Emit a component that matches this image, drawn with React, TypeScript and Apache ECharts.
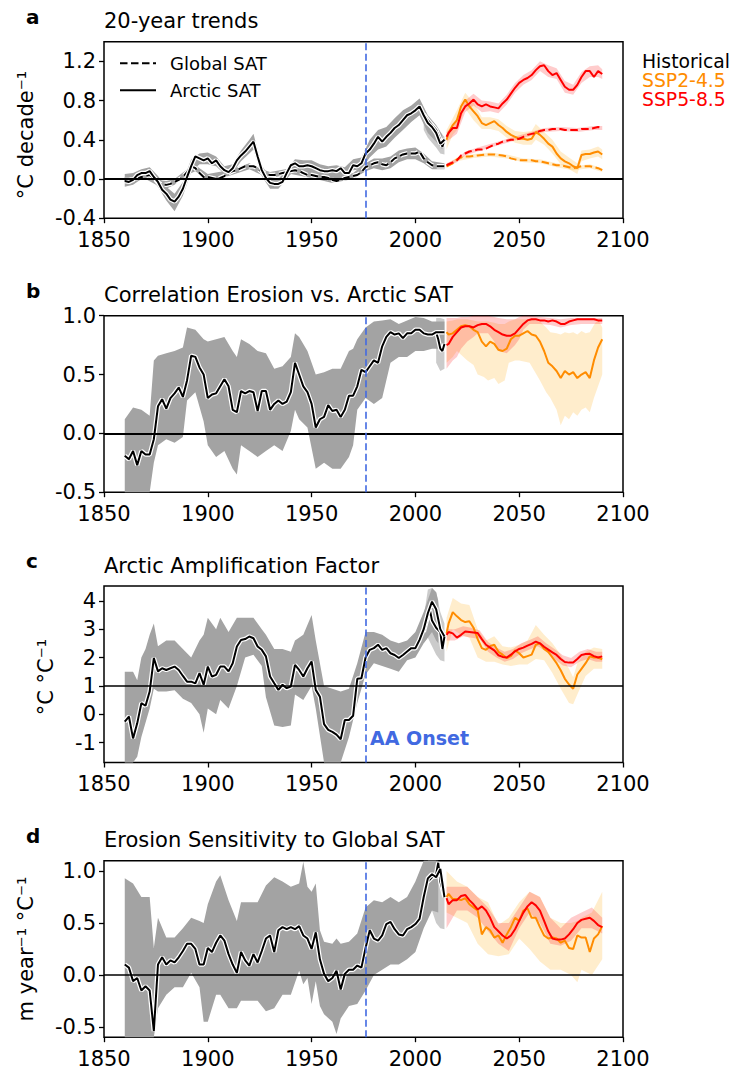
import React, { useEffect, useRef } from "react";
import * as echarts from "echarts";

const FONT = "DejaVu Sans";
const ONSET_YEAR = 1976;
const X_MIN = 1850;
const X_MAX = 2100;
const X_STEP = 50;

const HIST_YEARS = [
  1860, 1862, 1864, 1866, 1868, 1870, 1872, 1874, 1876, 1878,
  1880, 1882, 1884, 1886, 1888, 1890, 1892, 1894, 1896, 1898,
  1900, 1902, 1904, 1906, 1908, 1910, 1912, 1914, 1916, 1918,
  1920, 1922, 1924, 1926, 1928, 1930, 1932, 1934, 1936, 1938,
  1940, 1942, 1944, 1946, 1948, 1950, 1952, 1954, 1956, 1958,
  1960, 1962, 1964, 1966, 1968, 1970, 1972, 1974, 1976, 1978,
  1980, 1982, 1984, 1986, 1988, 1990, 1992, 1994, 1996, 1998,
  2000, 2002, 2004, 2006, 2008, 2010, 2012, 2014,
];
const PROJ_YEARS = [
  2015, 2016, 2018, 2020, 2022, 2024, 2026, 2028,
  2030, 2032, 2034, 2036, 2038, 2040, 2042, 2044, 2046, 2048,
  2050, 2052, 2054, 2056, 2058, 2060, 2062, 2064, 2066, 2068,
  2070, 2072, 2074, 2076, 2078, 2080, 2082, 2084, 2086, 2088, 2090,
];

// ---------- Panel a: 20-year trends ----------
const A_ARCTIC_HIST = [
  -0.02, -0.03, -0.01, 0.04, 0.06, 0.06, 0.08, 0.02, -0.03, -0.11,
  -0.15, -0.21, -0.23, -0.18, -0.1, 0.02, 0.13, 0.23, 0.21, 0.19,
  0.21, 0.16, 0.19, 0.13, 0.09, 0.07, 0.11, 0.19, 0.24, 0.28,
  0.33, 0.38, 0.23, 0.09, 0.01, -0.04, -0.05, -0.05, -0.03, 0.06,
  0.14, 0.16, 0.13, 0.13, 0.14, 0.13, 0.11, 0.09, 0.08, 0.08,
  0.09, 0.08, 0.11, 0.06, 0.06, 0.14, 0.13, 0.16, 0.26, 0.3,
  0.36, 0.43, 0.38, 0.43, 0.47, 0.52, 0.55, 0.6, 0.65, 0.67,
  0.7, 0.74, 0.65, 0.57, 0.53, 0.47, 0.36, 0.4,
];
const A_GLOBAL_HIST = [
  -0.01, -0.01, 0.0, 0.01, 0.02, 0.03, 0.04, 0.01, -0.04, -0.06,
  -0.06, -0.05, -0.03, -0.01, 0.02, 0.07, 0.13, 0.11, 0.06, 0.02,
  0.02, 0.01, 0.0, 0.01, 0.03, 0.06, 0.08, 0.09, 0.11, 0.13,
  0.13, 0.13, 0.11, 0.07, 0.05, 0.04, 0.04, 0.05, 0.06, 0.07,
  0.08, 0.09, 0.08, 0.06, 0.04, 0.04, 0.03, 0.02, 0.02, 0.01,
  -0.01, -0.02, -0.01, 0.01, 0.02, 0.03, 0.04, 0.07, 0.12, 0.14,
  0.16, 0.17, 0.15, 0.14, 0.17, 0.21, 0.23, 0.25, 0.26, 0.26,
  0.26, 0.28, 0.21, 0.17, 0.14, 0.13, 0.13, 0.13,
];
const A_LATE_YEARS = [2004, 2006, 2008, 2010, 2012, 2013, 2014];
const A_ARCTIC_LATE = [0.66, 0.6, 0.55, 0.5, 0.4, 0.33, 0.4];
const A_LATE_BAND_YEARS = [2004, 2006, 2008, 2010, 2012, 2014];
const A_LATE_BAND_HI = [0.7, 0.62, 0.58, 0.52, 0.47, 0.43];
const A_LATE_BAND_LO = [0.5, 0.42, 0.37, 0.32, 0.26, 0.25];
const A_ARCTIC_245 = [
  0.4, 0.47, 0.55, 0.6, 0.74, 0.81, 0.74, 0.69,
  0.64, 0.57, 0.55, 0.57, 0.59, 0.55, 0.52, 0.48, 0.45, 0.43,
  0.41, 0.41, 0.4, 0.41, 0.48, 0.45, 0.41, 0.36, 0.33, 0.26,
  0.21, 0.18, 0.16, 0.13, 0.11, 0.245, 0.255, 0.255, 0.27, 0.28, 0.25,
];
const A_ARCTIC_585 = [
  0.43, 0.47, 0.52, 0.52, 0.67, 0.74, 0.77, 0.81,
  0.76, 0.74, 0.76, 0.74, 0.73, 0.72, 0.77, 0.81, 0.87, 0.93,
  0.98, 1.01, 1.03, 1.06, 1.11, 1.15, 1.16, 1.1, 1.06, 1.08,
  1.01, 0.94, 0.91, 0.91, 0.96, 1.04, 1.1, 1.1, 1.04, 1.1, 1.07,
];
const A_GLOBAL_245 = [
  0.13, 0.14, 0.16, 0.2, 0.22, 0.23, 0.23, 0.235,
  0.24, 0.245, 0.25, 0.25, 0.25, 0.245, 0.24, 0.23, 0.21, 0.2,
  0.19, 0.19, 0.19, 0.19, 0.18, 0.18, 0.17, 0.16, 0.15, 0.14,
  0.14, 0.13, 0.12, 0.11, 0.12, 0.13, 0.13, 0.13, 0.12, 0.11, 0.09,
];
const A_GLOBAL_585 = [
  0.14, 0.15, 0.17, 0.19, 0.24, 0.26, 0.28, 0.29,
  0.3, 0.3, 0.31, 0.33, 0.35, 0.36, 0.38, 0.39, 0.4, 0.4,
  0.41, 0.43, 0.45, 0.46, 0.47, 0.49, 0.5, 0.5, 0.51, 0.51,
  0.51, 0.5, 0.5, 0.5, 0.5, 0.51, 0.51, 0.51, 0.52, 0.53, 0.52,
];
const A_ARCTIC_BAND_YEARS = [1860, 1864, 1868, 1872, 1876, 1880, 1884, 1888, 1892, 1896, 1900, 1904, 1908, 1912, 1916, 1920, 1922, 1926, 1930, 1934, 1938, 1942, 1946, 1950, 1954, 1958, 1962, 1966, 1970, 1974, 1978, 1982, 1986, 1990, 1994, 1998, 2002, 2006, 2010, 2013];
const A_ARCTIC_BAND_HI = [0.05, 0.06, 0.1, 0.12, 0.03, -0.08, -0.15, -0.03, 0.2, 0.26, 0.27, 0.23, 0.13, 0.15, 0.29, 0.4, 0.46, 0.14, 0.01, 0.0, 0.1, 0.2, 0.19, 0.19, 0.15, 0.13, 0.14, 0.12, 0.2, 0.22, 0.4, 0.5, 0.53, 0.62, 0.7, 0.75, 0.82, 0.65, 0.55, 0.45];
const A_ARCTIC_BAND_LO = [-0.08, -0.06, 0.0, 0.02, -0.08, -0.22, -0.33, -0.17, 0.07, 0.15, 0.15, 0.13, 0.05, 0.06, 0.18, 0.26, 0.3, 0.03, -0.1, -0.1, 0.0, 0.1, 0.08, 0.06, 0.03, 0.02, 0.01, 0.0, 0.09, 0.1, 0.22, 0.3, 0.33, 0.42, 0.5, 0.58, 0.65, 0.47, 0.38, 0.3];
const A_GLOBAL_BAND_YEARS = [1860, 1870, 1876, 1880, 1884, 1890, 1894, 1900, 1910, 1920, 1926, 1930, 1940, 1950, 1960, 1970, 1976, 1980, 1984, 1988, 1992, 1996, 2000, 2004, 2008, 2014];
const A_GLOBAL_BAND_HI = [0.02, 0.06, -0.01, -0.02, 0.0, 0.1, 0.14, 0.05, 0.09, 0.16, 0.1, 0.07, 0.11, 0.07, 0.02, 0.06, 0.16, 0.21, 0.21, 0.23, 0.29, 0.31, 0.32, 0.26, 0.18, 0.16];
const A_GLOBAL_BAND_LO = [-0.04, 0.0, -0.07, -0.1, -0.06, 0.04, 0.08, -0.01, 0.03, 0.1, 0.04, 0.01, 0.05, 0.01, -0.04, 0.0, 0.08, 0.11, 0.09, 0.11, 0.17, 0.2, 0.2, 0.16, 0.1, 0.1];
const A_585_BAND_YEARS = [2015, 2020, 2024, 2028, 2032, 2036, 2040, 2044, 2048, 2052, 2056, 2060, 2064, 2068, 2072, 2076, 2080, 2084, 2088, 2090];
const A_585_BAND_HI = [0.48, 0.6, 0.8, 0.87, 0.8, 0.79, 0.77, 0.86, 0.98, 1.06, 1.11, 1.2, 1.16, 1.13, 1.0, 0.96, 1.09, 1.15, 1.16, 1.12];
const A_585_BAND_LO = [0.38, 0.46, 0.68, 0.75, 0.68, 0.69, 0.67, 0.76, 0.88, 0.96, 1.01, 1.1, 1.04, 1.02, 0.88, 0.86, 0.98, 1.04, 1.04, 1.02];
const A_245_BAND_YEARS = [2015, 2018, 2020, 2024, 2028, 2032, 2036, 2040, 2044, 2048, 2052, 2056, 2058, 2062, 2066, 2070, 2074, 2078, 2080, 2084, 2088, 2090];
const A_245_BAND_HI = [0.5, 0.62, 0.7, 0.88, 0.78, 0.63, 0.63, 0.61, 0.54, 0.49, 0.48, 0.49, 0.56, 0.48, 0.4, 0.28, 0.22, 0.16, 0.29, 0.3, 0.33, 0.3];
const A_245_BAND_LO = [0.3, 0.45, 0.5, 0.72, 0.6, 0.51, 0.51, 0.49, 0.42, 0.37, 0.35, 0.35, 0.4, 0.35, 0.26, 0.15, 0.1, 0.05, 0.18, 0.21, 0.23, 0.2];
const A_G585_BAND_YEARS = [2015, 2020, 2024, 2030, 2038, 2046, 2054, 2062, 2070, 2078, 2086, 2090];
const A_G585_BAND_HI = [0.16, 0.21, 0.28, 0.32, 0.37, 0.42, 0.47, 0.52, 0.53, 0.52, 0.54, 0.54];
const A_G585_BAND_LO = [0.12, 0.17, 0.24, 0.28, 0.33, 0.38, 0.43, 0.48, 0.49, 0.48, 0.5, 0.5];
const A_G245_BAND_YEARS = [2015, 2020, 2028, 2036, 2044, 2052, 2060, 2068, 2076, 2084, 2090];
const A_G245_BAND_HI = [0.15, 0.22, 0.255, 0.27, 0.25, 0.21, 0.2, 0.16, 0.13, 0.15, 0.11];
const A_G245_BAND_LO = [0.11, 0.18, 0.215, 0.23, 0.21, 0.17, 0.16, 0.12, 0.09, 0.11, 0.07];

// ---------- Panel b: correlation erosion vs arctic SAT ----------
const B_HIST = [
  -0.19, -0.22, -0.15, -0.27, -0.15, -0.18, -0.18, -0.05, 0.23, 0.29,
  0.21, 0.3, 0.34, 0.39, 0.31, 0.45, 0.66, 0.65, 0.56, 0.5,
  0.3, 0.33, 0.34, 0.4, 0.46, 0.4, 0.2, 0.18, 0.36, 0.34,
  0.36, 0.35, 0.19, 0.36, 0.36, 0.2, 0.25, 0.28, 0.25, 0.27,
  0.35, 0.6, 0.5, 0.4, 0.35, 0.25, 0.05, 0.12, 0.14, 0.24,
  0.19, 0.2, 0.14, 0.2, 0.32, 0.32, 0.4, 0.54, 0.52, 0.57,
  0.62, 0.6, 0.74, 0.82, 0.86, 0.84, 0.85, 0.81, 0.85, 0.85,
  0.88, 0.88, 0.85, 0.84, 0.84, 0.86, 0.86, 0.86,
];
const B_LATE_YEARS = [2010, 2011, 2012, 2013, 2014];
const B_HIST_LATE = [0.86, 0.8, 0.72, 0.7, 0.76];
const B_LATE_BAND_YEARS = [2010, 2012, 2014];
const B_LATE_BAND_HI = [0.98, 0.98, 0.97];
const B_LATE_BAND_LO = [0.6, 0.53, 0.55];
const B_245 = [
  0.86, 0.84, 0.85, 0.88, 0.91, 0.92, 0.91, 0.88,
  0.86, 0.78, 0.74, 0.78, 0.76, 0.71, 0.7, 0.72, 0.8, 0.83,
  0.83, 0.85, 0.87, 0.84, 0.83, 0.78, 0.7, 0.6, 0.57, 0.53,
  0.47, 0.53, 0.5, 0.52, 0.47, 0.5, 0.52, 0.47, 0.62, 0.73, 0.8,
];
const B_585 = [
  0.75, 0.76, 0.82, 0.86, 0.9, 0.91, 0.91, 0.9,
  0.92, 0.93, 0.93, 0.91, 0.88, 0.86, 0.84, 0.83, 0.83, 0.85,
  0.89, 0.93, 0.96, 0.97, 0.97, 0.96, 0.96, 0.95, 0.96, 0.95,
  0.93, 0.93, 0.95, 0.96, 0.97, 0.97, 0.97, 0.97, 0.97, 0.96, 0.96,
];
const B_BAND_YEARS = [1860, 1864, 1868, 1872, 1874, 1876, 1880, 1884, 1888, 1890, 1894, 1898, 1900, 1904, 1908, 1912, 1914, 1916, 1920, 1924, 1928, 1932, 1936, 1940, 1942, 1944, 1948, 1952, 1956, 1960, 1964, 1968, 1970, 1972, 1976, 1980, 1984, 1988, 1992, 1996, 2000, 2004, 2008, 2012, 2014];
const B_BAND_HI = [0.12, 0.22, 0.2, 0.15, 0.62, 0.66, 0.68, 0.7, 0.73, 0.9, 0.88, 0.8, 0.78, 0.8, 0.82, 0.7, 0.65, 0.8, 0.76, 0.7, 0.68, 0.55, 0.57, 0.65, 0.85, 0.82, 0.7, 0.5, 0.52, 0.55, 0.55, 0.7, 0.72, 0.8, 0.9, 0.95, 0.96, 0.97, 0.93, 0.96, 0.99, 0.98, 0.95, 0.95, 0.95];
const B_BAND_LO = [-0.5, -0.5, -0.5, -0.5, -0.25, -0.1, -0.05, -0.08, -0.03, 0.28, 0.35, 0.1, -0.1, -0.2, -0.15, -0.3, -0.35, -0.1, -0.15, -0.2, -0.15, -0.1, -0.15, 0.02, 0.2, 0.12, 0.05, -0.3, -0.25, -0.3, -0.3, -0.2, -0.1, 0.2, 0.3, 0.25, 0.3, 0.6, 0.65, 0.65, 0.7, 0.7, 0.72, 0.72, 0.74];
const B_585_BAND_YEARS = [2015, 2018, 2020, 2022, 2025, 2028, 2030, 2035, 2038, 2040, 2044, 2048, 2050, 2052, 2055, 2060, 2065, 2070, 2075, 2080, 2085, 2090];
const B_585_BAND_HI = [0.98, 0.98, 0.98, 0.99, 0.99, 1.0, 1.0, 1.0, 0.99, 0.98, 0.97, 0.97, 0.99, 1.0, 1.0, 0.99, 0.98, 0.97, 0.98, 0.98, 0.98, 0.98];
const B_585_BAND_LO = [0.55, 0.62, 0.65, 0.72, 0.78, 0.82, 0.85, 0.85, 0.78, 0.7, 0.68, 0.75, 0.8, 0.88, 0.93, 0.93, 0.92, 0.9, 0.92, 0.93, 0.93, 0.93];
const B_245_BAND_YEARS = [2015, 2018, 2020, 2025, 2028, 2030, 2033, 2035, 2038, 2040, 2043, 2045, 2048, 2050, 2055, 2060, 2063, 2065, 2068, 2070, 2072, 2074, 2076, 2078, 2080, 2082, 2084, 2086, 2088, 2090];
const B_245_BAND_HI = [0.95, 0.96, 0.97, 0.97, 0.96, 0.95, 0.95, 0.95, 0.94, 0.93, 0.93, 0.95, 0.97, 0.97, 0.97, 0.95, 0.9, 0.86, 0.85, 0.84, 0.86, 0.85, 0.86, 0.84, 0.87, 0.85, 0.86, 0.92, 0.97, 0.9];
const B_245_BAND_LO = [0.6, 0.65, 0.7, 0.62, 0.58, 0.5, 0.48, 0.45, 0.47, 0.42, 0.45, 0.6, 0.62, 0.62, 0.6, 0.45, 0.35, 0.3, 0.2, 0.07, 0.15, 0.12, 0.18, 0.15, 0.2, 0.22, 0.18, 0.3, 0.4, 0.5];

// ---------- Panel c: Arctic amplification factor ----------
const C_HIST = [
  -0.26, -0.08, -0.85, -0.32, 0.39, 0.3, 0.8, 1.98, 1.51, 1.62,
  1.56, 1.62, 1.68, 1.56, 1.35, 1.15, 1.15, 1.09, 1.45, 1.04,
  1.68, 1.33, 1.39, 1.68, 1.68, 1.51, 1.8, 2.39, 2.62, 2.65,
  2.74, 2.68, 2.39, 2.27, 2.04, 1.33, 1.09, 0.86, 1.04, 0.92,
  0.98, 1.74, 1.56, 1.33, 1.62, 1.86, 0.86, 0.62, -0.35, -0.55,
  -0.62, -0.72, -0.88, -0.2, -0.2, -0.05, 1.25, 1.27, 2.0, 2.27,
  2.33, 2.45, 2.27, 2.33, 2.15, 2.09, 1.98, 2.09, 2.21, 2.33,
  2.33, 2.62, 3.0, 3.56, 3.97, 3.7, 3.0, 2.74,
];
const C_LATE_YEARS = [2004, 2006, 2007, 2008, 2010, 2012, 2013, 2014];
const C_HIST_LATE = [2.9, 3.45, 3.68, 3.3, 3.05, 2.9, 2.3, 2.74];
const C_LATE_BAND_YEARS = [2004, 2006, 2008, 2010, 2012, 2014];
const C_LATE_BAND_HI = [3.4, 4.4, 4.45, 4.3, 3.6, 3.2];
const C_LATE_BAND_LO = [2.5, 2.7, 2.4, 2.1, 1.9, 1.86];
const C_245 = [
  2.85, 3.2, 3.6, 3.45, 3.32, 3.25, 3.28, 3.05,
  2.65, 2.33, 2.27, 2.4, 2.45, 2.2, 2.1, 1.98, 2.05, 2.25,
  2.15, 2.0, 2.05, 2.1, 2.45, 2.5, 2.3, 2.2, 2.0, 1.8,
  1.55, 1.25, 1.05, 0.9, 1.4, 1.6, 1.8, 2.04, 2.0, 2.0, 1.94,
];
const C_585 = [
  2.8, 2.9, 2.85, 2.7, 2.8, 2.92, 2.9, 2.88,
  2.86, 2.65, 2.45, 2.35, 2.25, 2.08, 2.02, 2.0, 2.1, 2.22,
  2.3, 2.35, 2.42, 2.48, 2.56, 2.5, 2.38, 2.28, 2.18, 2.09,
  1.95, 1.84, 1.82, 1.82, 1.95, 2.09, 2.12, 2.13, 2.05, 2.0, 2.04,
];
const C_BAND_YEARS = [1860, 1864, 1866, 1868, 1870, 1872, 1874, 1876, 1880, 1884, 1888, 1892, 1896, 1898, 1900, 1904, 1906, 1910, 1914, 1918, 1922, 1926, 1928, 1932, 1936, 1940, 1942, 1946, 1950, 1952, 1956, 1960, 1964, 1968, 1972, 1976, 1980, 1984, 1988, 1992, 1996, 2000, 2004, 2008, 2010, 2011];
const C_BAND_HI = [1.5, 1.5, 1.2, 2.0, 2.3, 2.8, 3.2, 2.4, 2.6, 2.6, 2.3, 2.0, 2.6, 2.8, 3.4, 3.0, 3.4, 2.9, 3.4, 3.4, 3.4, 3.0, 2.8, 2.3, 2.3, 2.2, 2.6, 2.8, 3.5, 2.6, 1.0, 0.9, 0.8, 0.9, 1.8, 2.9, 2.9, 2.8, 2.6, 2.5, 2.6, 2.9, 3.6, 4.45, 4.3, 4.0];
const C_BAND_LO = [-1.7, -1.7, -1.5, -0.8, -0.3, 0.2, 0.9, 0.8, 0.8, 0.85, 0.55, 0.4, 0.0, -0.65, 0.2, 0.0, 0.5, 0.2, 1.0, 2.0, 2.1, 1.7, 0.6, -0.4, -0.45, -0.4, 0.7, 0.5, 1.0, 0.2, -1.7, -1.7, -1.7, -0.8, 0.4, 1.4, 1.8, 1.7, 1.6, 1.5, 1.9, 2.0, 2.5, 2.9, 2.6, 2.5];
const C_585_BAND_YEARS = [2015, 2019, 2023, 2027, 2031, 2035, 2039, 2043, 2047, 2051, 2055, 2059, 2063, 2067, 2071, 2075, 2079, 2083, 2087, 2090];
const C_585_BAND_HI = [3.0, 3.0, 3.1, 3.05, 2.95, 2.55, 2.35, 2.2, 2.3, 2.5, 2.62, 2.75, 2.5, 2.3, 2.08, 1.98, 2.2, 2.3, 2.2, 2.2];
const C_585_BAND_LO = [2.6, 2.6, 2.75, 2.7, 2.65, 2.2, 2.0, 1.85, 1.95, 2.15, 2.28, 2.4, 2.2, 1.95, 1.72, 1.66, 1.85, 1.95, 1.85, 1.85];
const C_245_BAND_YEARS = [2015, 2018, 2022, 2026, 2030, 2034, 2038, 2042, 2046, 2050, 2054, 2058, 2062, 2066, 2070, 2074, 2076, 2078, 2082, 2086, 2090];
const C_245_BAND_HI = [3.4, 4.1, 3.9, 3.85, 3.0, 2.6, 2.75, 2.4, 2.35, 2.45, 2.6, 3.15, 2.8, 2.5, 2.1, 1.6, 1.3, 1.8, 2.2, 2.35, 2.3];
const C_245_BAND_LO = [2.2, 3.0, 2.8, 2.7, 2.0, 1.85, 1.85, 1.75, 1.7, 1.75, 1.75, 1.95, 1.9, 1.45, 0.9, 0.4, 0.35, 0.7, 1.35, 1.6, 1.6];

// ---------- Panel d: erosion sensitivity to global SAT ----------
const D_HIST = [
  0.1, 0.07, -0.06, -0.03, -0.15, -0.11, -0.15, -0.54, 0.1, 0.17,
  0.1, 0.14, 0.12, 0.17, 0.23, 0.3, 0.3, 0.25, 0.1, 0.1,
  0.26, 0.22, 0.31, 0.38, 0.33, 0.2, 0.1, 0.02, 0.22, 0.14,
  0.09, 0.2, 0.12, 0.23, 0.35, 0.38, 0.22, 0.43, 0.46, 0.44,
  0.46, 0.44, 0.47, 0.38, 0.35, 0.25, 0.41, 0.15, 0.01, -0.06,
  -0.03, 0.04, -0.14, 0.01, 0.05, 0.05, 0.09, 0.07, 0.26, 0.43,
  0.35, 0.33, 0.38, 0.49, 0.51, 0.44, 0.39, 0.38, 0.44, 0.46,
  0.49, 0.54, 0.75, 0.93, 0.97, 0.94, 1.02, 0.75,
];
const D_LATE_YEARS = [2006, 2008, 2010, 2011, 2012, 2014];
const D_HIST_LATE = [0.9, 0.94, 0.97, 1.08, 0.9, 0.75];
const D_LATE_BAND_YEARS = [2006, 2008, 2010, 2012, 2014];
const D_LATE_BAND_HI = [1.1, 1.1, 1.1, 0.95, 0.78];
const D_LATE_BAND_LO = [0.7, 0.62, 0.5, 0.45, 0.44];
const D_245 = [
  0.75, 0.78, 0.73, 0.73, 0.72, 0.74, 0.68, 0.65,
  0.62, 0.39, 0.46, 0.43, 0.36, 0.38, 0.31, 0.39, 0.46, 0.55,
  0.52, 0.62, 0.64, 0.55, 0.55, 0.46, 0.38, 0.35, 0.36, 0.35,
  0.31, 0.33, 0.26, 0.25, 0.38, 0.36, 0.36, 0.22, 0.35, 0.39, 0.47,
];
const D_585 = [
  0.74, 0.68, 0.72, 0.72, 0.76, 0.77, 0.72, 0.68,
  0.63, 0.66, 0.62, 0.55, 0.46, 0.42, 0.38, 0.35, 0.38, 0.44,
  0.52, 0.6, 0.66, 0.7, 0.67, 0.62, 0.52, 0.42, 0.35, 0.34,
  0.34, 0.35, 0.39, 0.44, 0.5, 0.53, 0.54, 0.55, 0.52, 0.48, 0.46,
];
const D_BAND_YEARS = [1860, 1864, 1868, 1872, 1874, 1876, 1880, 1884, 1888, 1892, 1896, 1898, 1900, 1904, 1906, 1910, 1914, 1916, 1920, 1924, 1928, 1932, 1936, 1940, 1944, 1946, 1948, 1950, 1952, 1954, 1956, 1960, 1962, 1964, 1968, 1972, 1976, 1980, 1984, 1988, 1992, 1996, 2000, 2004, 2008, 2011];
const D_BAND_HI = [0.93, 0.88, 0.75, 0.75, 0.26, 0.55, 0.36, 0.36, 0.45, 0.55, 0.52, 0.5, 0.68, 0.9, 0.96, 0.72, 0.52, 0.7, 0.7, 0.7, 0.86, 0.94, 0.9, 0.85, 0.88, 1.09, 0.85, 0.8, 0.88, 0.43, 0.32, 0.3, 0.35, 0.3, 0.32, 0.4, 0.65, 0.72, 0.7, 0.75, 0.7, 0.75, 0.9, 1.1, 1.1, 1.1];
const D_BAND_LO = [-0.6, -0.6, -0.6, -0.6, -0.6, -0.32, -0.19, -0.12, -0.12, 0.02, -0.12, -0.45, -0.45, -0.19, -0.19, -0.32, -0.32, -0.25, -0.25, -0.25, -0.35, -0.32, -0.19, -0.19, 0.04, -0.09, -0.03, -0.28, -0.06, -0.3, -0.38, -0.45, -0.57, -0.42, -0.3, -0.28, -0.15, 0.0, 0.05, 0.1, 0.1, 0.15, 0.22, 0.45, 0.62, 0.6];
const D_585_BAND_YEARS = [2015, 2020, 2025, 2030, 2035, 2040, 2045, 2050, 2055, 2060, 2065, 2070, 2075, 2080, 2085, 2090];
const D_585_BAND_HI = [0.85, 0.85, 0.85, 0.75, 0.65, 0.5, 0.5, 0.65, 0.8, 0.75, 0.55, 0.45, 0.55, 0.6, 0.65, 0.55];
const D_585_BAND_LO = [0.45, 0.62, 0.62, 0.55, 0.42, 0.3, 0.23, 0.45, 0.6, 0.5, 0.3, 0.28, 0.33, 0.45, 0.45, 0.4];
const D_245_BAND_YEARS = [2015, 2020, 2025, 2030, 2035, 2040, 2045, 2050, 2055, 2060, 2065, 2070, 2075, 2078, 2080, 2085, 2090];
const D_245_BAND_HI = [1.0, 0.9, 0.85, 0.75, 0.7, 0.48, 0.55, 0.7, 0.8, 0.75, 0.55, 0.5, 0.5, 0.52, 0.55, 0.6, 0.8];
const D_245_BAND_LO = [0.6, 0.55, 0.5, 0.3, 0.2, 0.18, 0.2, 0.35, 0.25, 0.13, 0.05, 0.05, 0.0, -0.07, 0.05, 0.0, 0.15];

// ---------- Axis ticks & texts ----------
const A_YTICKS = [-0.4, 0, 0.4, 0.8, 1.2];
const B_YTICKS = [-0.5, 0, 0.5, 1.0];
const C_YTICKS = [-1, 0, 1, 2, 3, 4];
const D_YTICKS = [-0.5, 0, 0.5, 1.0];
const TITLES = ["20-year trends", "Correlation Erosion vs. Arctic SAT", "Arctic Amplification Factor", "Erosion Sensitivity to Global SAT"];
const LETTERS = ["a", "b", "c", "d"];
const YLABELS = ["°C decade⁻¹", "", "°C °C⁻¹", "m year⁻¹ °C⁻¹"];
const SCENARIOS = ["Historical", "SSP2-4.5", "SSP5-8.5"];
const VAR_LEGEND = ["Global SAT", "Arctic SAT"];
const ONSET_LABEL = "AA Onset";

const GREY = "#a3a3a3";
const LIGHT_GREY = "#cbcbcb";
const ORANGE = "#ff8c00";
const RED = "#ff0000";
const ORANGE_BAND = "rgba(255,165,0,0.2)";
const RED_BAND = "rgba(255,0,0,0.2)";
const BLUE = "#4169e1";
const DASH = [7.5, 3.5];

const PANELS = [
  { top: 41.7, ymin: -0.4, ymax: 1.4, ticks: A_YTICKS, digits: 1, ref: 0, refW: 2, ylx: 26, yly: 135 },
  { top: 315.7, ymin: -0.5, ymax: 1.0, ticks: B_YTICKS, digits: 1, ref: 0, refW: 2, ylx: 0, yly: 0 },
  { top: 586, ymin: -1.7, ymax: 4.52, ticks: C_YTICKS, digits: 0, ref: 1, refW: 1.5, ylx: 46, yly: 677 },
  { top: 860.7, ymin: -0.6, ymax: 1.1, ticks: D_YTICKS, digits: 1, ref: 0, refW: 1.5, ylx: 26, yly: 949 },
];
const PLOT_LEFT = 104;
const PLOT_W = 519;
const PLOT_H = 176.5;

const zip = (xs: number[], ys: number[]) => xs.map((x, i) => [x, ys[i]]);

function band(gi: number, years: number[], lo: number[], hi: number[], color: string) {
  return {
    type: "custom",
    xAxisIndex: gi,
    yAxisIndex: gi,
    z: 1,
    silent: true,
    data: [[years[0], lo[0]]],
    renderItem: (_params: any, api: any) => {
      const pts: number[][] = [];
      for (let i = 0; i < years.length; i++) pts.push(api.coord([years[i], hi[i]]));
      for (let i = years.length - 1; i >= 0; i--) pts.push(api.coord([years[i], lo[i]]));
      return { type: "polygon", shape: { points: pts }, style: { fill: color } };
    },
  };
}

function line(gi: number, years: number[], vals: number[], color: string, width: number, dashed: boolean, z = 3) {
  return {
    type: "line",
    xAxisIndex: gi,
    yAxisIndex: gi,
    data: zip(years, vals),
    showSymbol: false,
    symbol: "none",
    silent: true,
    z,
    lineStyle: { color, width, type: dashed ? DASH : "solid" },
    emphasis: { disabled: true },
  };
}

function refSeries(gi: number, ref: number, refW: number, years: number[], vals: number[]) {
  return {
    type: "line",
    xAxisIndex: gi,
    yAxisIndex: gi,
    data: zip(years, vals),
    showSymbol: false,
    symbol: "none",
    silent: true,
    z: 2,
    lineStyle: { opacity: 0, width: 0 },
    markLine: {
      silent: true,
      symbol: ["none", "none"],
      label: { show: false },
      animation: false,
      data: [
        { yAxis: ref, lineStyle: { color: "#000", width: refW, type: "solid" } },
        { xAxis: ONSET_YEAR, lineStyle: { color: BLUE, width: 1.6, type: [7, 3.5] } },
      ],
    },
  };
}

function histLines(gi: number, years: number[], vals: number[], dashed = false) {
  return [
    line(gi, years, vals, "#ffffff", 4.5, dashed, 3),
    line(gi, years, vals, "#000000", 2, dashed, 3),
  ];
}

function buildOption() {
  const series: any[] = [];
  // a
  series.push(band(0, A_LATE_BAND_YEARS, A_LATE_BAND_LO, A_LATE_BAND_HI, LIGHT_GREY));
  series.push(band(0, A_ARCTIC_BAND_YEARS, A_ARCTIC_BAND_LO, A_ARCTIC_BAND_HI, GREY));
  series.push(band(0, A_GLOBAL_BAND_YEARS, A_GLOBAL_BAND_LO, A_GLOBAL_BAND_HI, GREY));
  series.push(band(0, A_245_BAND_YEARS, A_245_BAND_LO, A_245_BAND_HI, ORANGE_BAND));
  series.push(band(0, A_G245_BAND_YEARS, A_G245_BAND_LO, A_G245_BAND_HI, ORANGE_BAND));
  series.push(band(0, A_585_BAND_YEARS, A_585_BAND_LO, A_585_BAND_HI, RED_BAND));
  series.push(band(0, A_G585_BAND_YEARS, A_G585_BAND_LO, A_G585_BAND_HI, RED_BAND));
  series.push(refSeries(0, PANELS[0].ref, PANELS[0].refW, HIST_YEARS, A_ARCTIC_HIST));
  series.push(...histLines(0, HIST_YEARS, A_GLOBAL_HIST, true));
  series.push(...histLines(0, A_LATE_YEARS, A_ARCTIC_LATE, false));
  series.push(...histLines(0, HIST_YEARS, A_ARCTIC_HIST, false));
  series.push(line(0, PROJ_YEARS, A_GLOBAL_245, ORANGE, 2, true));
  series.push(line(0, PROJ_YEARS, A_ARCTIC_245, ORANGE, 2, false));
  series.push(line(0, PROJ_YEARS, A_GLOBAL_585, RED, 2, true));
  series.push(line(0, PROJ_YEARS, A_ARCTIC_585, RED, 2, false));
  // b
  series.push(band(1, B_LATE_BAND_YEARS, B_LATE_BAND_LO, B_LATE_BAND_HI, LIGHT_GREY));
  series.push(band(1, B_BAND_YEARS, B_BAND_LO, B_BAND_HI, GREY));
  series.push(band(1, B_245_BAND_YEARS, B_245_BAND_LO, B_245_BAND_HI, ORANGE_BAND));
  series.push(band(1, B_585_BAND_YEARS, B_585_BAND_LO, B_585_BAND_HI, RED_BAND));
  series.push(refSeries(1, PANELS[1].ref, PANELS[1].refW, HIST_YEARS, B_HIST));
  series.push(...histLines(1, B_LATE_YEARS, B_HIST_LATE));
  series.push(...histLines(1, HIST_YEARS, B_HIST));
  series.push(line(1, PROJ_YEARS, B_245, ORANGE, 2, false));
  series.push(line(1, PROJ_YEARS, B_585, RED, 2, false));
  // c
  series.push(band(2, C_LATE_BAND_YEARS, C_LATE_BAND_LO, C_LATE_BAND_HI, LIGHT_GREY));
  series.push(band(2, C_BAND_YEARS, C_BAND_LO, C_BAND_HI, GREY));
  series.push(band(2, C_245_BAND_YEARS, C_245_BAND_LO, C_245_BAND_HI, ORANGE_BAND));
  series.push(band(2, C_585_BAND_YEARS, C_585_BAND_LO, C_585_BAND_HI, RED_BAND));
  series.push(refSeries(2, PANELS[2].ref, PANELS[2].refW, HIST_YEARS, C_HIST));
  series.push(...histLines(2, C_LATE_YEARS, C_HIST_LATE));
  series.push(...histLines(2, HIST_YEARS, C_HIST));
  series.push(line(2, PROJ_YEARS, C_245, ORANGE, 2, false));
  series.push(line(2, PROJ_YEARS, C_585, RED, 2, false));
  // d
  series.push(band(3, D_LATE_BAND_YEARS, D_LATE_BAND_LO, D_LATE_BAND_HI, LIGHT_GREY));
  series.push(band(3, D_BAND_YEARS, D_BAND_LO, D_BAND_HI, GREY));
  series.push(band(3, D_245_BAND_YEARS, D_245_BAND_LO, D_245_BAND_HI, ORANGE_BAND));
  series.push(band(3, D_585_BAND_YEARS, D_585_BAND_LO, D_585_BAND_HI, RED_BAND));
  series.push(refSeries(3, PANELS[3].ref, PANELS[3].refW, HIST_YEARS, D_HIST));
  series.push(...histLines(3, D_LATE_YEARS, D_HIST_LATE));
  series.push(...histLines(3, HIST_YEARS, D_HIST));
  series.push(line(3, PROJ_YEARS, D_245, ORANGE, 2, false));
  series.push(line(3, PROJ_YEARS, D_585, RED, 2, false));

  const graphic: any[] = [];
  PANELS.forEach((p, i) => {
    graphic.push({
      type: "text", x: 26, y: p.top - 25, silent: true,
      style: { text: LETTERS[i], fontSize: 20, fontWeight: "bold", fontFamily: FONT, fill: "#000", align: "left", verticalAlign: "middle" },
    });
    graphic.push({
      type: "text", x: PLOT_LEFT, y: p.top - 20.5, silent: true,
      style: { text: TITLES[i], fontSize: 21, fontFamily: FONT, fill: "#000", align: "left", verticalAlign: "middle" },
    });
    if (YLABELS[i]) {
      graphic.push({
        type: "text", x: p.ylx, y: p.yly, rotation: Math.PI / 2, silent: true,
        style: { text: YLABELS[i], fontSize: 21, fontFamily: FONT, fill: "#000", align: "center", verticalAlign: "middle" },
      });
    }
  });
  // in-plot legend (panel a)
  graphic.push({ type: "line", silent: true, shape: { x1: 120, y1: 63.3, x2: 156, y2: 63.3 }, style: { stroke: "#000", lineWidth: 2, lineDash: DASH } });
  graphic.push({ type: "line", silent: true, shape: { x1: 120, y1: 90.3, x2: 156, y2: 90.3 }, style: { stroke: "#000", lineWidth: 2 } });
  graphic.push({ type: "text", x: 170, y: 63.3, silent: true, style: { text: VAR_LEGEND[0], fontSize: 18, fontFamily: FONT, fill: "#000", align: "left", verticalAlign: "middle" } });
  graphic.push({ type: "text", x: 170, y: 90.3, silent: true, style: { text: VAR_LEGEND[1], fontSize: 18, fontFamily: FONT, fill: "#000", align: "left", verticalAlign: "middle" } });
  // scenario legend
  const scenColors = ["#000", ORANGE, RED];
  SCENARIOS.forEach((s, i) => {
    graphic.push({ type: "text", x: 642, y: 61.5 + i * 19, silent: true, style: { text: s, fontSize: 18.8, lineHeight: 18, fontFamily: FONT, fill: scenColors[i], align: "left", verticalAlign: "middle" } });
  });
  // AA onset label
  graphic.push({ type: "text", x: 370, y: 738, silent: true, style: { text: ONSET_LABEL, fontSize: 19, fontWeight: "bold", fontFamily: FONT, fill: BLUE, align: "left", verticalAlign: "middle" } });

  return {
    animation: false,
    backgroundColor: "#ffffff",
    grid: PANELS.map((p) => ({
      left: PLOT_LEFT, width: PLOT_W, top: p.top, height: PLOT_H,
      show: true, borderColor: "#000", borderWidth: 1.5, backgroundColor: "transparent",
    })),
    xAxis: PANELS.map((_p, i) => ({
      type: "value", gridIndex: i, min: X_MIN, max: X_MAX, interval: X_STEP,
      axisLine: { show: false, onZero: false },
      axisTick: { show: true, length: 5, lineStyle: { color: "#000", width: 1.3 } },
      axisLabel: { color: "#000", fontSize: 21, lineHeight: 21, fontFamily: FONT, margin: 11, formatter: (v: number) => String(v) },
      splitLine: { show: false },
    })),
    yAxis: PANELS.map((p, i) => ({
      type: "value", gridIndex: i, min: p.ymin, max: p.ymax,
      axisLine: { show: false, onZero: false },
      axisTick: { show: true, length: 5, customValues: p.ticks, lineStyle: { color: "#000", width: 1.3 } },
      axisLabel: {
        color: "#000", fontSize: 21, lineHeight: 14, fontFamily: FONT, margin: 8, customValues: p.ticks,
        formatter: (v: number) => v.toFixed(p.digits),
      },
      splitLine: { show: false },
    })),
    series,
    graphic,
  };
}

export default function App() {
  const ref = useRef<HTMLDivElement>(null);
  useEffect(() => {
    if (!ref.current) return;
    const chart = echarts.init(ref.current, undefined, { renderer: "svg" });
    chart.setOption(buildOption() as any);
    return () => chart.dispose();
  }, []);
  return <div ref={ref} style={{ position: "absolute", left: 0, top: 0, width: 743, height: 1072, background: "#fff" }} />;
}
